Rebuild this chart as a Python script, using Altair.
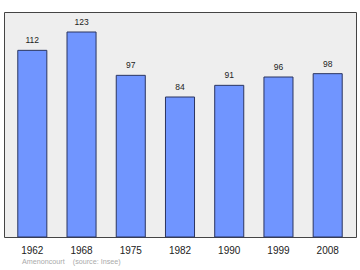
import altair as alt
import pandas as pd

years = ["1962", "1968", "1975", "1982", "1990", "1999", "2008"]
population = [112, 123, 97, 84, 91, 96, 98]
source_note = ["Amenoncourt\u00a0\u00a0\u00a0\u00a0(source: Insee)"]

df = pd.DataFrame({"year": years, "pop": population})

x = alt.X("year:N", sort=years,
          scale=alt.Scale(paddingInner=0.41, paddingOuter=0.28),
          axis=alt.Axis(title=None, labelAngle=0, domain=False, ticks=False,
                        labelPadding=8, labelFontSize=10, labelColor="#222222",
                        labelFont="Liberation Sans", grid=False))
y = alt.Y("pop:Q", scale=alt.Scale(domain=[0, 135], nice=False),
          axis=None)

bars = alt.Chart(df).mark_bar(color="#7095ff", stroke="#2b3560", strokeWidth=1).encode(x=x, y=y)
labels = alt.Chart(df).mark_text(dy=-10, fontSize=8.5, color="#222222",
                                 font="Liberation Sans").encode(x=x, y=y, text="pop:Q")
note = alt.Chart(pd.DataFrame({"t": source_note})).mark_text(
    align="left", baseline="middle", fontSize=7.2, color="#aaaaaa",
    font="Liberation Sans").encode(x=alt.value(18), y=alt.value(250), text="t:N")

chart = alt.layer(bars, labels, note).properties(
    width=352, height=225,
    padding={"left": 4, "top": 12, "right": 4, "bottom": 33},
    autosize=alt.AutoSizeParams(type="none"),
    background="white",
).configure_view(fill="#eeeeee", stroke="#444444", strokeWidth=1)

chart.save("out.html", embed_options={"renderer": "svg", "actions": False})
